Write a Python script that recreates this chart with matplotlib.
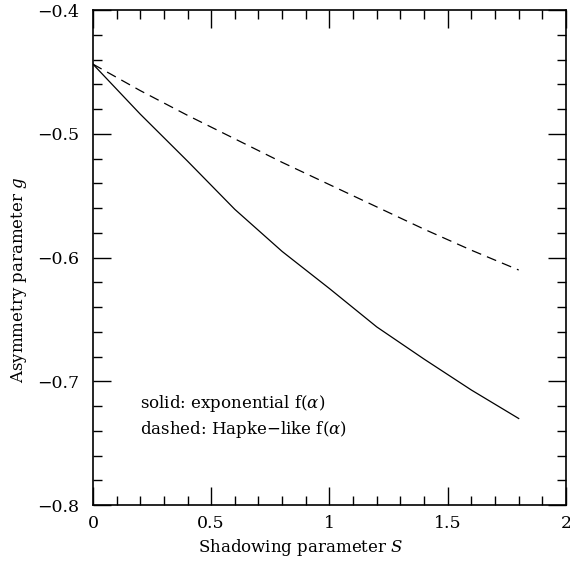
import numpy as np
import matplotlib
matplotlib.use("Agg")
import matplotlib.pyplot as plt
from matplotlib.ticker import MultipleLocator, FuncFormatter

# shadowing parameter grid and asymmetry parameter for the two phase functions
S = [0.0, 0.2, 0.4, 0.6, 0.8, 1.0, 1.2, 1.4, 1.6, 1.8]
g_exponential = [-0.4436, -0.484, -0.522, -0.561, -0.595, -0.625, -0.656, -0.682, -0.707, -0.730]
g_hapke = [-0.4436, -0.465, -0.485, -0.504, -0.523, -0.541, -0.559, -0.577, -0.594, -0.610]

plt.rcParams['font.family'] = ['DejaVu Serif']
plt.rcParams['mathtext.fontset'] = 'dejavuserif'

fig = plt.figure(figsize=(5.7, 5.65), dpi=100)
ax = fig.add_axes([0.163, 0.106, 0.830, 0.876])

ax.plot(S, g_exponential, color='black', lw=0.9, solid_joinstyle='round')
ax.plot(S, g_hapke, color='black', lw=0.9, ls=(0, (8, 5)))

ax.set_xlim(0, 2)
ax.set_ylim(-0.8, -0.4)

ax.xaxis.set_major_locator(MultipleLocator(0.5))
ax.xaxis.set_minor_locator(MultipleLocator(0.1))
ax.yaxis.set_major_locator(MultipleLocator(0.1))
ax.yaxis.set_minor_locator(MultipleLocator(0.02))

def fmt(v, pos):
    s = f"{v:g}"
    return s.replace('-', '\u2212')

ax.xaxis.set_major_formatter(FuncFormatter(fmt))
ax.yaxis.set_major_formatter(FuncFormatter(fmt))

ax.tick_params(which='both', direction='in', top=True, right=True, colors='black', labelsize=12.5)
ax.tick_params(which='major', length=13, width=1.0, pad=7)
ax.tick_params(which='minor', length=6.5, width=1.0)
ax.tick_params(axis='y', which='major', pad=10)
for sp in ax.spines.values():
    sp.set_linewidth(1.2)

ax.set_xlabel('Shadowing parameter $S$', fontsize=12)
ax.set_ylabel('Asymmetry parameter $g$', fontsize=12)
ax.xaxis.set_label_coords(0.44, -0.064)
ax.yaxis.set_label_coords(-0.136, 0.455)

ax.text(0.2, -0.718, r'solid: exponential f($\alpha$)', fontsize=12, va='center', ha='left')
ax.text(0.2, -0.7385, r'dashed: Hapke$-$like f($\alpha$)', fontsize=12, va='center', ha='left')

fig.savefig('out.png', dpi=100)
